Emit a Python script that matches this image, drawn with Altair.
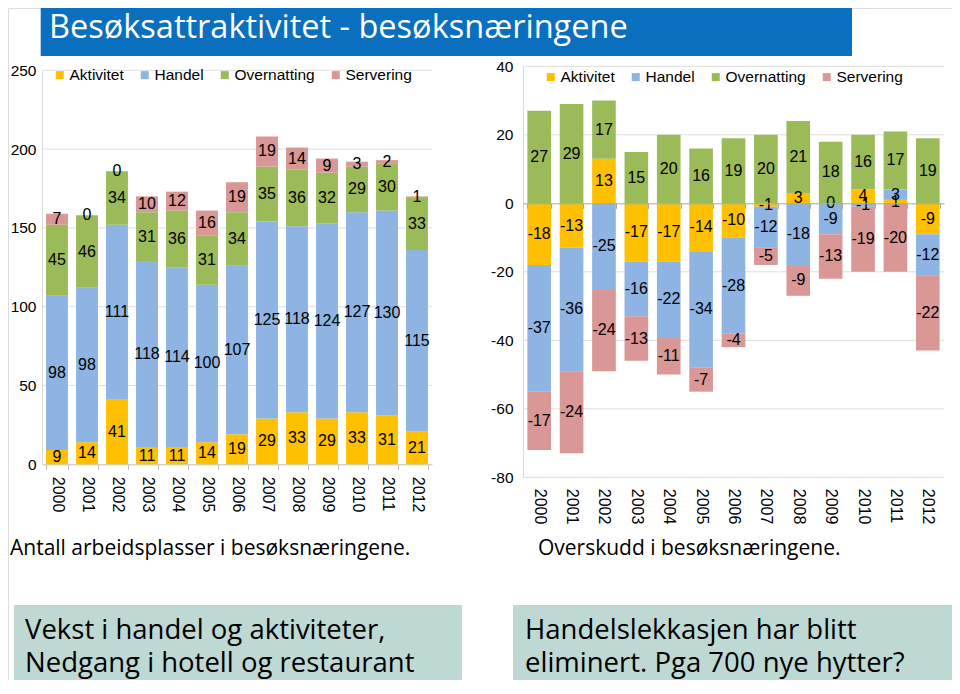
import altair as alt
import pandas as pd

years = [str(y) for y in range(2000, 2013)]
cats = ["Aktivitet", "Handel", "Overnatting", "Servering"]
colors = ["#FFC000", "#8EB4E3", "#9BBB59", "#D99795"]

# Antall arbeidsplasser i besøksnæringene
jobs_aktivitet = [9, 14, 41, 11, 11, 14, 19, 29, 33, 29, 33, 31, 21]
jobs_handel = [98, 98, 111, 118, 114, 100, 107, 125, 118, 124, 127, 130, 115]
jobs_overnatting = [45, 46, 34, 31, 36, 31, 34, 35, 36, 32, 29, 30, 33]
jobs_servering = [7, 0, 0, 10, 12, 16, 19, 19, 14, 9, 3, 2, 1]

# Overskudd i besøksnæringene
surp_aktivitet = [-18, -13, 13, -17, -17, -14, -10, -1, 3, 0, 4, 1, -9]
surp_handel = [-37, -36, -25, -16, -22, -34, -28, -12, -18, -9, -1, 3, -12]
surp_overnatting = [27, 29, 17, 15, 20, 16, 19, 20, 21, 18, 16, 17, 19]
surp_servering = [-17, -24, -24, -13, -11, -7, -4, -5, -9, -13, -19, -20, -22]

left_ticks = [0, 50, 100, 150, 200, 250]
right_ticks = [-80, -60, -40, -20, 0, 20, 40]

W, H = 944, 672
FONT = "Liberation Sans"
SLIDE_FONT = "Open Sans"


def long_frame(series):
    rows = []
    for ci, (c, vals) in enumerate(zip(cats, series)):
        for y, v in zip(years, vals):
            rows.append({"year": y, "cat": c, "ord": ci, "value": v})
    return pd.DataFrame(rows)


def stacked(df, xrange, yrange, ydomain, yvalues, yoff, ylabpad, xaxis, legend_xy):
    base = alt.Chart(df).transform_stack(
        stack="value", groupby=["year"], as_=["v0", "v1"],
        sort=[alt.SortField("ord", order="ascending")],
    ).transform_calculate(mid="(datum.v0 + datum.v1) / 2")
    xs = alt.Scale(domain=years, range=xrange, paddingInner=0.27, paddingOuter=0.135)
    ys = alt.Scale(domain=ydomain, range=yrange, nice=False, zero=False)
    grid = alt.Chart(pd.DataFrame({"tick": [t for t in yvalues if t != 0]})).mark_rule(
        color="#DEDEDE", strokeWidth=1).encode(
        y=alt.Y("tick:Q", scale=ys, axis=None),
        x=alt.value(xrange[0]), x2=alt.value(xrange[1]),
    )
    bars = base.mark_bar().encode(
        x=alt.X("year:N", scale=xs, axis=xaxis),
        y=alt.Y("v0:Q", scale=ys, axis=alt.Axis(
            orient="left", offset=yoff, values=yvalues, title=None, ticks=False,
            domain=True, domainColor="#D9D9D9", grid=False,
            labelFontSize=15.5, labelFont=FONT, labelColor="black",
            labelPadding=ylabpad, labelExpr="'' + datum.value")),
        y2="v1:Q",
        color=alt.Color("cat:N", scale=alt.Scale(domain=cats, range=colors),
                        legend=alt.Legend(
                            orient="none", legendX=legend_xy[0], legendY=legend_xy[1],
                            direction="horizontal", title=None, symbolType="square",
                            symbolSize=64, symbolStrokeWidth=0, labelFontSize=15.5,
                            labelFont=FONT, labelColor="black", columnPadding=13,
                            labelOffset=2, padding=0)),
    )
    text = base.mark_text(fontSize=16, font=FONT, color="black",
                          align="center", baseline="middle").encode(
        x=alt.X("year:N", scale=xs, axis=None),
        y=alt.Y("mid:Q", scale=ys, axis=None),
        text=alt.Text("value:N"),
    )
    return [grid, bars, text]


left_df = long_frame([jobs_aktivitet, jobs_handel, jobs_overnatting, jobs_servering])
right_df = long_frame([surp_aktivitet, surp_handel, surp_overnatting, surp_servering])

left_xaxis = alt.Axis(orient="bottom", offset=456.3 - H, title=None, labelAngle=90,
                      labelAlign="left", labelBaseline="middle", labelFontSize=16,
                      labelFont=FONT, labelColor="black", labelPadding=7,
                      domainColor="#BFBFBF", tickColor="#BFBFBF", tickSize=5,
                      tickBand="extent", grid=False)
right_xaxis = alt.Axis(orient="bottom", offset=195.3 - H, title=None, labelAngle=90,
                       labelAlign="left", labelBaseline="middle", labelFontSize=16,
                       labelFont=FONT, labelColor="black", labelPadding=280,
                       domainColor="#A6A6A6", tickColor="#A6A6A6", tickSize=5,
                       tickBand="extent", grid=False, zindex=1)

left = stacked(left_df, [34, 424], [456.3, 62.3], [0, 250], left_ticks, -34, 6,
               left_xaxis, (44, 59))
right = stacked(right_df, [515, 936], [469.3, 58.3], [-80, 40], right_ticks, -515, 10,
                right_xaxis, (535, 61))

one = alt.Data(values=[{}])


def rect(x, x2, y, y2, color):
    return alt.Chart(one).mark_rect(color=color).encode(
        x=alt.value(x), x2=alt.value(x2), y=alt.value(y), y2=alt.value(y2))


def label(s, x, y, size, color="black", font=SLIDE_FONT, baseline="alphabetic"):
    return alt.Chart(one).mark_text(text=s, align="left", baseline=baseline,
                                    fontSize=size, font=font, color=color).encode(
        x=alt.value(x), y=alt.value(y))


decor = [
    rect(32.7, 844, 0, 48, "#0B6FC0"),
    label("Besøksattraktivitet - besøksnæringene", 41, 30, 32.5, color="white"),
    label("Antall arbeidsplasser i besøksnæringene.", 2, 547, 21),
    label("Overskudd i besøksnæringene.", 530, 547, 21),
    rect(6, 454, 597, H, "#BED8D3"),
    rect(505, W, 597, H, "#BED8D3"),
    label("Vekst i handel og aktiviteter,", 17, 631, 27.5),
    label("Nedgang i hotell og restaurant", 17, 664, 27.5),
    label("Handelslekkasjen har blitt", 517, 631, 27.5),
    label("eliminert. Pga 700 nye hytter?", 517, 664, 27.5),
]

chart = alt.layer(*decor, *left, *right).resolve_scale(
    x="independent", y="independent", color="independent"
).properties(
    width=W, height=H, padding=0,
    autosize=alt.AutoSizeParams(type="none"),
).configure_view(stroke=None).configure(background="white")

chart.save("out.html", embed_options={"renderer": "svg", "actions": False})
